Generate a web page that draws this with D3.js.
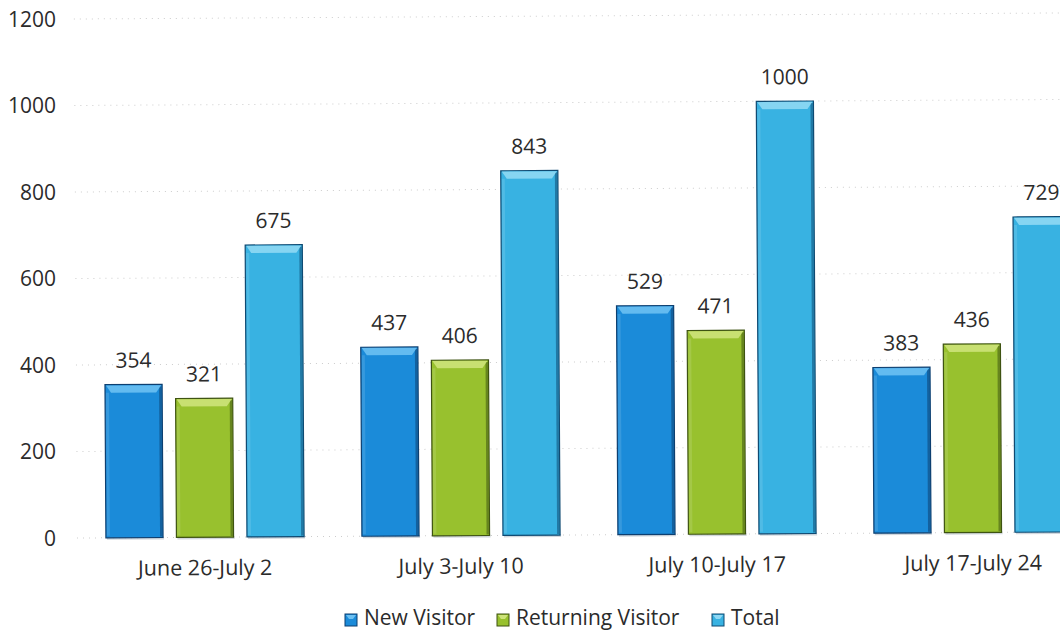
<!DOCTYPE html>
<html>
<head>
<meta charset="utf-8">
<script src="https://cdn.jsdelivr.net/npm/d3@7/dist/d3.min.js"></script>
<style>
  html, body { margin: 0; padding: 0; background: #fff; }
  svg { display: block; }
  text { font-family: "Open Sans", "Noto Sans", sans-serif; fill: #2b2b2b; }
</style>
</head>
<body>
<svg id="chart" width="1060" height="632"></svg>
<script>
// Weekly site visitors
const categories = ["June 26-July 2", "July 3-July 10", "July 10-July 17", "July 17-July 24"];
const seriesNames = ["New Visitor", "Returning Visitor", "Total"];
const newVisitor = [354, 437, 529, 383];
const returningVisitor = [321, 406, 471, 436];
const totalVisitors = [675, 843, 1000, 729];
const yTicks = [0, 200, 400, 600, 800, 1000, 1200];

const seriesValues = [newVisitor, returningVisitor, totalVisitors];
const palette = {
  "New Visitor":       { base: "#1b8bd9", light: "#6cc0f2", edge: "#0d3f70" },
  "Returning Visitor": { base: "#98c12e", light: "#cde37a", edge: "#3e5312" },
  "Total":             { base: "#38b2e2", light: "#8fd8f4", edge: "#0f4a72" }
};

const svg = d3.select("#chart");
const plot = { left: 77, right: 1101, top: 19, bottom: 538 };

const x0 = d3.scaleBand().domain(categories).range([plot.left, plot.right]);
const x1 = d3.scaleBand().domain(seriesNames).range([0, x0.bandwidth()])
  .paddingInner(0.19).paddingOuter(0.41);
const y = d3.scaleLinear().domain([0, 1200]).range([plot.bottom, plot.top]);

// y axis labels (kept upright at the left edge)
const yAxis = d3.axisLeft(y).tickValues(yTicks).tickSize(0).tickPadding(0)
  .tickFormat(d3.format("d"));
const ya = svg.append("g").attr("transform", "translate(56,0)").call(yAxis);
ya.select(".domain").remove();
ya.selectAll("text").style("font-size", "21px").attr("fill", "#2b2b2b")
  .attr("font-family", null).attr("dy", "0.35em");

// plot body with a slight counter-clockwise tilt
const g = svg.append("g").attr("transform", `rotate(-0.35, ${plot.left}, ${plot.bottom})`);

// faint dotted gridlines
g.append("g").selectAll("line").data(yTicks).join("line")
  .attr("x1", plot.left).attr("x2", 1070)
  .attr("y1", d => y(d)).attr("y2", d => y(d))
  .attr("stroke", "#cccccc").attr("stroke-width", 1)
  .attr("stroke-dasharray", "1 5");

// category labels
const xa = g.append("g").attr("transform", `translate(0,${plot.bottom})`)
  .call(d3.axisBottom(x0).tickSize(0).tickPadding(0));
xa.select(".domain").remove();
xa.selectAll("text").style("font-size", "21.5px").attr("fill", "#2b2b2b")
  .attr("font-family", null).attr("y", 38).attr("dy", 0);

// bars
const rows = categories.flatMap((c, i) =>
  seriesNames.map((s, j) => ({ cat: c, series: s, value: seriesValues[j][i] })));

const bars = g.append("g").selectAll("g").data(rows).join("g")
  .attr("transform", d => `translate(${x0(d.cat) + x1(d.series)},0)`);

const bw = x1.bandwidth();

// soft shadow under each bar
bars.append("rect")
  .attr("x", 1).attr("y", plot.bottom - 1)
  .attr("width", bw).attr("height", 3)
  .attr("fill", "#9aa7b3").attr("opacity", 0.45);

bars.append("rect")
  .attr("x", 0).attr("y", d => y(d.value))
  .attr("width", bw).attr("height", d => y(0) - y(d.value))
  .attr("fill", d => palette[d.series].base)
  .attr("stroke", d => palette[d.series].edge).attr("stroke-width", 1.2);

// darker right edge
bars.append("rect")
  .attr("x", bw - 3).attr("y", d => y(d.value) + 2)
  .attr("width", 2.4).attr("height", d => y(0) - y(d.value) - 3)
  .attr("fill", d => palette[d.series].edge).attr("opacity", 0.55);

// lighter left edge
bars.append("rect")
  .attr("x", 1).attr("y", d => y(d.value) + 8)
  .attr("width", 3).attr("height", d => Math.max(0, y(0) - y(d.value) - 10))
  .attr("fill", "#fff").attr("opacity", 0.12);

// top bevel
bars.append("path")
  .attr("d", d => {
    const t = y(d.value);
    return `M1,${t + 0.8} L${bw - 1},${t + 0.8} L${bw - 6},${t + 8} L6,${t + 8} Z`;
  })
  .attr("fill", d => palette[d.series].light).attr("opacity", 0.9);

// value labels
bars.append("text")
  .attr("x", bw / 2).attr("y", d => y(d.value) - 17)
  .attr("text-anchor", "middle")
  .style("font-size", "21px")
  .text(d => d.value);

// legend
const legendItems = [
  { name: "New Visitor", x: 345 },
  { name: "Returning Visitor", x: 497 },
  { name: "Total", x: 712 }
];
const lg = svg.append("g").attr("transform", "translate(0,619)");
const li = lg.selectAll("g").data(legendItems).join("g")
  .attr("transform", d => `translate(${d.x},0)`);
li.append("rect").attr("x", 0).attr("y", -5).attr("width", 12).attr("height", 12)
  .attr("fill", d => palette[d.name].base)
  .attr("stroke", d => palette[d.name].edge).attr("stroke-width", 1);
li.append("path").attr("d", "M1,-4 L11,-4 L8,0 L4,0 Z")
  .attr("fill", d => palette[d.name].light);
li.append("text").attr("x", 19).attr("y", 6)
  .style("font-size", "21px")
  .text(d => d.name);
</script>
</body>
</html>
